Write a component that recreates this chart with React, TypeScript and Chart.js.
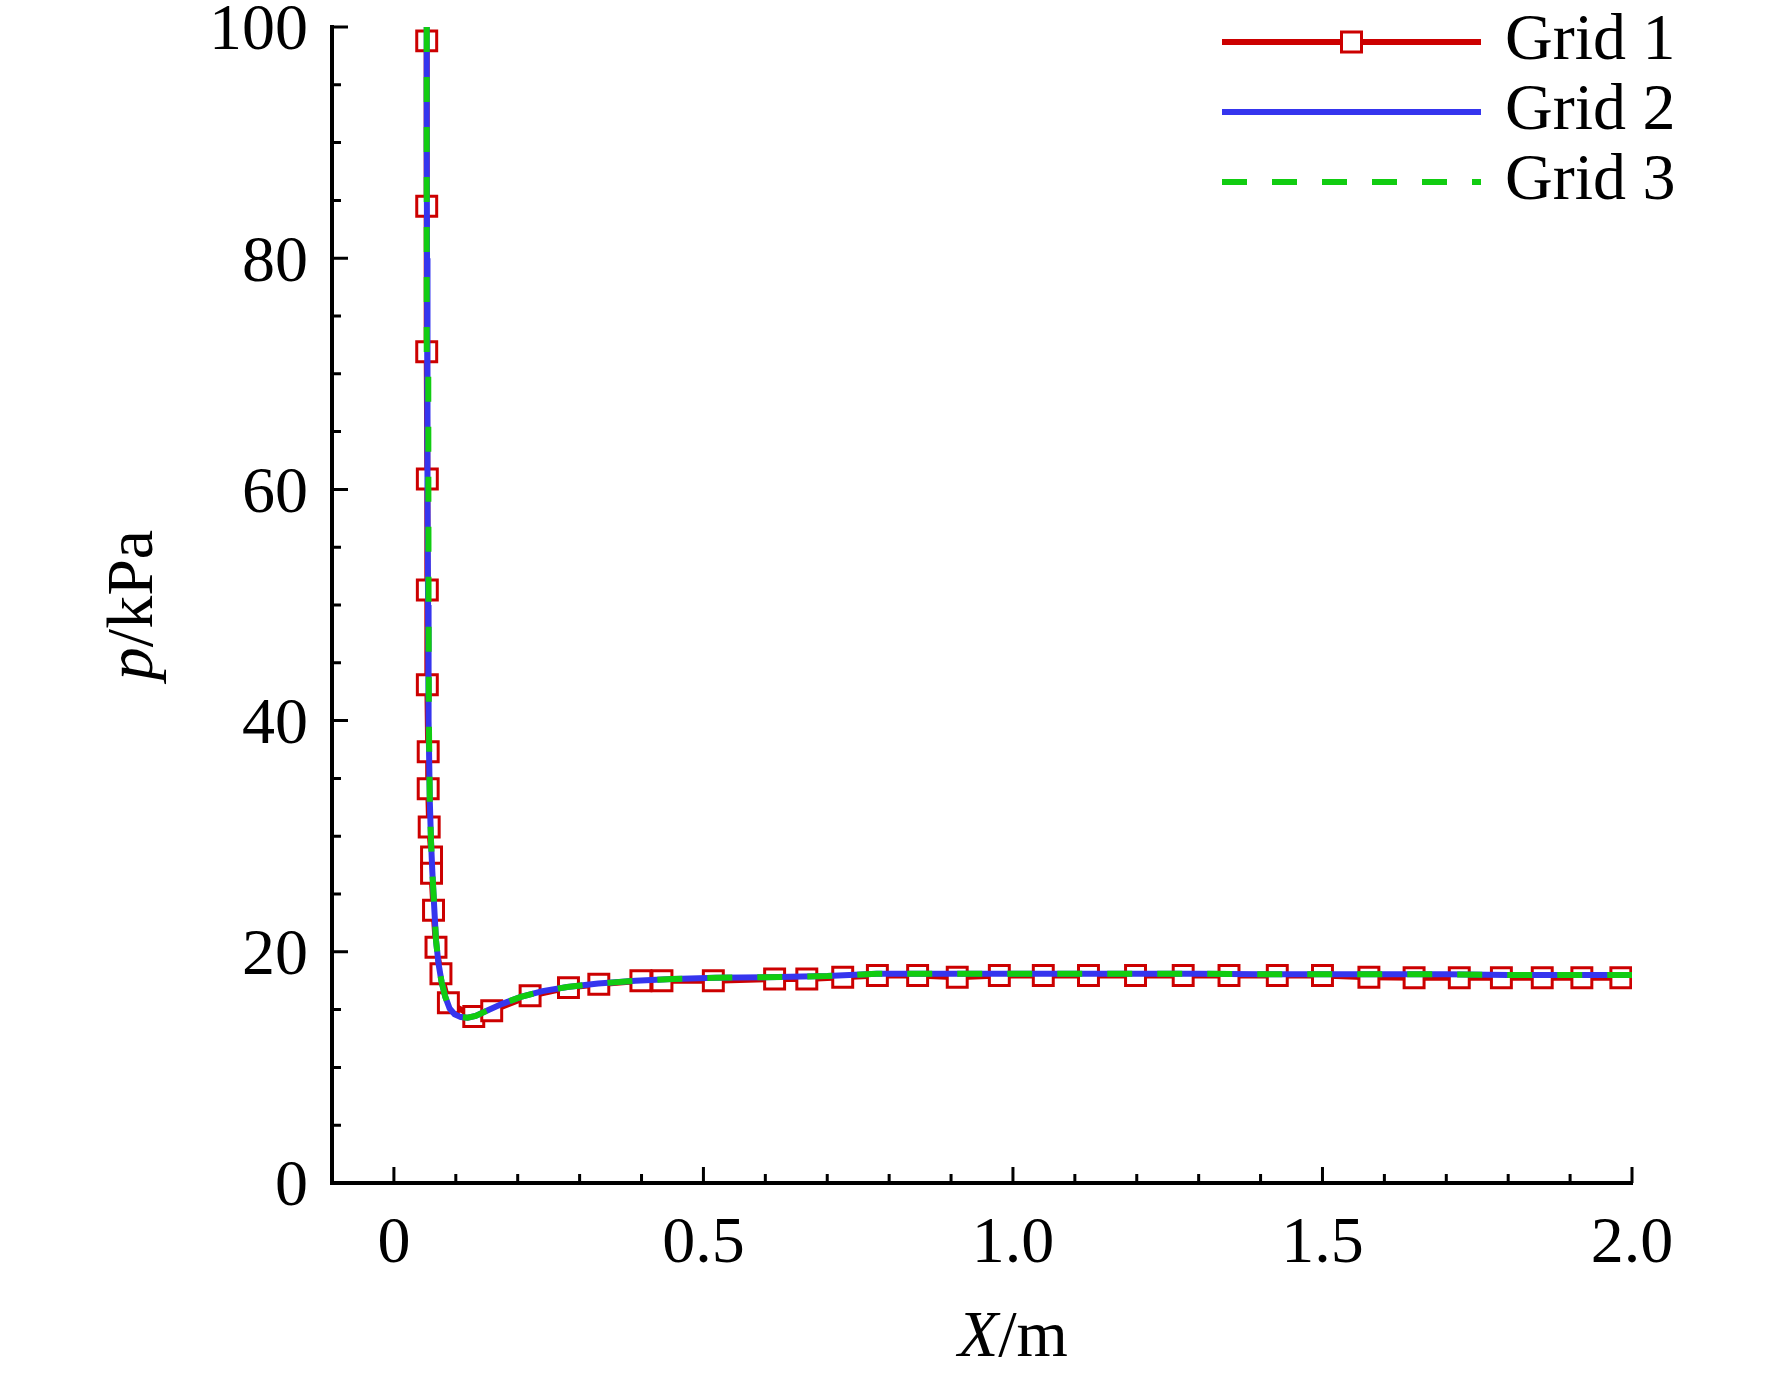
import React, { useEffect, useRef } from 'react';
import { Chart, registerables } from 'chart.js';

Chart.register(...registerables);

// Grid 1 (red squares, sampled points)
const grid1X = [
  0.053, 0.053, 0.053, 0.054, 0.054, 0.054, 0.0554, 0.0554, 0.057, 0.0608, 0.0608, 0.064,
  0.068, 0.076, 0.088, 0.129, 0.158, 0.22, 0.282, 0.331, 0.399, 0.433, 0.516, 0.615,
  0.667, 0.725, 0.781, 0.846, 0.91, 0.978, 1.049, 1.122, 1.198, 1.275, 1.349, 1.427,
  1.5, 1.575, 1.648, 1.721, 1.789, 1.855, 1.919, 1.982,
];
const grid1Y = [
  98.8, 84.5, 71.9, 60.9, 51.3, 43.1, 37.3, 34.1, 30.8, 28.2, 26.8, 23.6,
  20.4, 18.1, 15.6, 14.4, 14.9, 16.2, 16.9, 17.2, 17.5, 17.5, 17.5, 17.65,
  17.65, 17.8, 17.95, 17.95, 17.8, 17.95, 17.95, 17.95, 17.95, 17.95, 17.95, 17.95,
  17.95, 17.8, 17.75, 17.75, 17.75, 17.75, 17.75, 17.75,
];

// Grid 2 (blue solid)
const grid2X = [
  0.053, 0.053, 0.0535, 0.054, 0.0545, 0.0552, 0.056, 0.058, 0.06, 0.062, 0.065, 0.068,
  0.072, 0.077, 0.083, 0.09, 0.098, 0.108, 0.119, 0.132, 0.15, 0.175, 0.205, 0.24,
  0.28, 0.33, 0.39, 0.45, 0.52, 0.6, 0.7, 0.78, 0.9, 1.0, 1.1, 1.2, 1.3, 1.4,
  1.5, 1.6, 1.7, 1.8, 1.9, 2.0,
];
const grid2Y = [
  100, 90, 80, 70, 60, 50, 40, 33, 29.5, 27, 24, 21,
  19, 17.4, 16.1, 15.1, 14.6, 14.35, 14.3, 14.45, 14.9, 15.5, 16.1, 16.6,
  16.95, 17.25, 17.5, 17.65, 17.75, 17.8, 17.9, 18.1, 18.1, 18.1, 18.1, 18.1, 18.1, 18.05,
  18.05, 18.05, 18.05, 18.0, 18.0, 18.0,
];

// Grid 3 (green dashed)
const grid3X = [
  0.053, 0.053, 0.053, 0.053, 0.0555, 0.0557, 0.056, 0.0565, 0.058, 0.06, 0.062, 0.065,
  0.068, 0.072, 0.077, 0.083, 0.09, 0.098, 0.108, 0.119, 0.132, 0.15, 0.175, 0.205,
  0.24, 0.28, 0.33, 0.39, 0.45, 0.52, 0.6, 0.7, 0.78, 0.9, 1.0, 1.1, 1.2, 1.3,
  1.4, 1.5, 1.6, 1.7, 1.8, 1.9, 2.0,
];
const grid3Y = [
  100, 90, 80, 70.8, 70.4, 60, 50, 40, 33, 29.5, 27, 24,
  21, 19, 17.4, 16.1, 15.1, 14.6, 14.35, 14.3, 14.45, 14.9, 15.5, 16.1,
  16.6, 16.95, 17.25, 17.5, 17.65, 17.75, 17.8, 17.9, 18.1, 18.1, 18.1, 18.1, 18.1, 18.1,
  18.05, 18.05, 18.05, 18.05, 18.0, 18.0, 18.0,
];

const seriesNames = ['Grid 1', 'Grid 2', 'Grid 3'];
const xTicks = [0, 0.5, 1.0, 1.5, 2.0];
const xTickLabels = ['0', '0.5', '1.0', '1.5', '2.0'];
const yTicks = [0, 20, 40, 60, 80, 100];
const yTickLabels = ['0', '20', '40', '60', '80', '100'];

const FONT = '"Liberation Serif", "Times New Roman", serif';
const FONT_SIZE = 66;

const toPoints = (xs: number[], ys: number[]) => xs.map((x, i) => ({ x, y: ys[i] }));

// inward major/minor ticks drawn through the scales
const inwardTicks = {
  id: 'inwardTicks',
  afterDraw(chart: any) {
    const { ctx, chartArea, scales } = chart;
    ctx.save();
    ctx.strokeStyle = '#000';
    ctx.lineWidth = 3;
    ctx.beginPath();
    for (let i = 0; i <= 20; i++) {
      const px = scales.x.getPixelForValue(i / 10);
      const len = i % 5 === 0 ? 16 : 9;
      ctx.moveTo(px, chartArea.bottom);
      ctx.lineTo(px, chartArea.bottom - len);
    }
    for (let i = 1; i <= 20; i++) {
      const py = scales.y.getPixelForValue(i * 5);
      const len = i % 4 === 0 ? 16 : 9;
      ctx.moveTo(chartArea.left, py);
      ctx.lineTo(chartArea.left + len, py);
    }
    ctx.stroke();
    ctx.restore();
  },
};

const drawMixed = (ctx: CanvasRenderingContext2D, parts: [string, boolean][], cx: number, cy: number) => {
  const fontOf = (it: boolean) => `${it ? 'italic ' : ''}${FONT_SIZE}px ${FONT}`;
  let total = 0;
  parts.forEach(([t, it]) => {
    ctx.font = fontOf(it);
    total += ctx.measureText(t).width;
  });
  let x = cx - total / 2;
  ctx.textAlign = 'left';
  parts.forEach(([t, it]) => {
    ctx.font = fontOf(it);
    ctx.fillText(t, x, cy);
    x += ctx.measureText(t).width;
  });
};

const axisTitles = {
  id: 'axisTitles',
  afterDraw(chart: any) {
    const { ctx, chartArea, scales } = chart;
    ctx.save();
    ctx.fillStyle = '#000';
    ctx.textBaseline = 'alphabetic';
    drawMixed(ctx, [['X', true], ['/m', false]], scales.x.getPixelForValue(1.0), 1356);
    ctx.translate(152, (chartArea.top + chartArea.bottom) / 2);
    ctx.rotate(-Math.PI / 2);
    drawMixed(ctx, [['p', true], ['/kPa', false]], 0, 0);
    ctx.restore();
  },
};

const lineLegend = {
  id: 'lineLegend',
  afterDraw(chart: any) {
    const { ctx } = chart;
    const x0 = 1222;
    const x1 = 1481;
    const rows = [42, 112, 182];
    ctx.save();
    chart.data.datasets.forEach((ds: any, i: number) => {
      const y = rows[i];
      ctx.strokeStyle = ds.borderColor;
      ctx.lineWidth = ds.borderWidth;
      ctx.setLineDash(ds.borderDash || []);
      ctx.beginPath();
      ctx.moveTo(x0, y);
      ctx.lineTo(x1, y);
      ctx.stroke();
      ctx.setLineDash([]);
      if (ds.pointRadius > 0) {
        const s = 10;
        const cx = (x0 + x1) / 2;
        ctx.fillStyle = ds.pointBackgroundColor;
        ctx.strokeStyle = ds.pointBorderColor;
        ctx.lineWidth = ds.pointBorderWidth;
        ctx.fillRect(cx - s, y - s, 2 * s, 2 * s);
        ctx.strokeRect(cx - s, y - s, 2 * s, 2 * s);
      }
      ctx.fillStyle = '#000';
      ctx.font = `${FONT_SIZE}px ${FONT}`;
      ctx.textAlign = 'left';
      ctx.textBaseline = 'middle';
      ctx.fillText(ds.label, 1505, y);
    });
    ctx.restore();
  },
};

const App = () => {
  const canvasRef = useRef<HTMLCanvasElement>(null);
  const chartRef = useRef<Chart | null>(null);

  useEffect(() => {
    const ctx = canvasRef.current?.getContext('2d');
    if (!ctx) return;
    if (chartRef.current) chartRef.current.destroy();

    chartRef.current = new Chart(ctx, {
      type: 'line',
      data: {
        datasets: [
          {
            label: seriesNames[0],
            data: toPoints(grid1X, grid1Y),
            borderColor: '#cc0000',
            borderWidth: 6,
            pointStyle: 'rect',
            pointRadius: 14.1,
            pointBorderWidth: 3,
            pointBorderColor: '#cc0000',
            pointBackgroundColor: '#ffffff',
            tension: 0,
            order: 3,
          },
          {
            label: seriesNames[1],
            data: toPoints(grid2X, grid2Y),
            borderColor: '#3535ee',
            borderWidth: 6,
            pointRadius: 0,
            tension: 0,
            order: 2,
          },
          {
            label: seriesNames[2],
            data: toPoints(grid3X, grid3Y),
            borderColor: '#11cc11',
            borderWidth: 6,
            borderDash: [25, 25],
            pointRadius: 0,
            tension: 0,
            order: 1,
          },
        ],
      },
      options: {
        responsive: true,
        maintainAspectRatio: false,
        animation: false,
        layout: { padding: { top: 27, right: 140, left: 0, bottom: 0 } },
        scales: {
          x: {
            type: 'linear',
            min: -0.1,
            max: 2.0,
            grid: { display: false, drawTicks: false },
            border: { display: true, color: '#000', width: 4 },
            afterFit: (scale: any) => {
              scale.height = 194;
              scale.paddingLeft = 0;
              scale.paddingRight = 0;
            },
            afterBuildTicks: (scale: any) => { scale.ticks = xTicks.map(v => ({ value: v })); },
            ticks: {
              color: '#000',
              font: { family: FONT, size: FONT_SIZE },
              padding: 22,
              maxRotation: 0,
              autoSkip: false,
              callback: (_v: any, i: number) => xTickLabels[i],
            },
          },
          y: {
            type: 'linear',
            min: 0,
            max: 100,
            grid: { display: false, drawTicks: false },
            border: { display: true, color: '#000', width: 4 },
            afterFit: (scale: any) => {
              scale.width = 332;
              scale.paddingTop = 0;
              scale.paddingBottom = 0;
            },
            afterBuildTicks: (scale: any) => { scale.ticks = yTicks.map(v => ({ value: v })); },
            ticks: {
              color: '#000',
              font: { family: FONT, size: FONT_SIZE },
              padding: 24,
              labelOffset: 5,
              autoSkip: false,
              callback: (_v: any, i: number) => yTickLabels[i],
            },
          },
        },
        plugins: {
          legend: { display: false },
          tooltip: { enabled: false },
        },
      },
      plugins: [inwardTicks, axisTitles, lineLegend],
    });

    return () => {
      if (chartRef.current) {
        chartRef.current.destroy();
        chartRef.current = null;
      }
    };
  }, []);

  return (
    <div style={{ position: 'absolute', left: 0, top: 0, width: 1772, height: 1377, background: '#fff' }}>
      <canvas ref={canvasRef} />
    </div>
  );
};

export default App;
